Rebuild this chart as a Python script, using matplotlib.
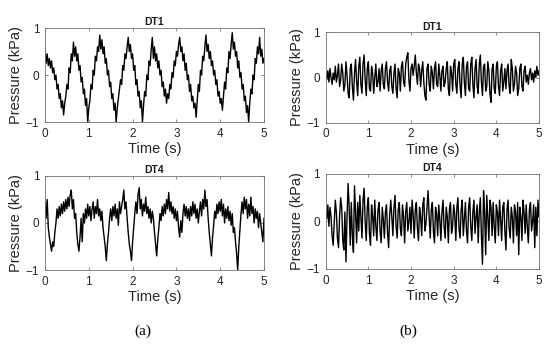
import numpy as np
import matplotlib
matplotlib.use("Agg")
import matplotlib.pyplot as plt

# pressure readings (kPa), sampled evenly over 0-5 s
dt1_a = [0.55, 0.25, 0.45, 0.2, 0.35, 0.15, 0.3, 0.05, 0.15, -0.1, 0.0, -0.3, -0.2, -0.5, -0.4, -0.7, -0.55, -0.85,
         -0.6, -0.45, -0.2, -0.3, 0.15, 0.05, 0.45, 0.3, 0.7,
         0.4, 0.6, 0.3, 0.45, 0.1, 0.2, -0.15, -0.05, -0.4, -0.3, -0.65, -0.5, -1.0,
         -0.7, -0.55, -0.2, -0.3, 0.1, 0.0, 0.4, 0.3, 0.6, 0.5, 0.85,
         0.55, 0.75, 0.45, 0.6, 0.25, 0.35, 0.0, 0.1, -0.25, -0.15, -0.5, -0.4, -0.75, -0.6, -1.0,
         -0.7, -0.5, -0.3, -0.1, -0.2, 0.2, 0.1, 0.45, 0.35, 0.6, 0.8,
         0.5, 0.65, 0.35, 0.45, 0.1, 0.2, -0.2, -0.1, -0.45, -0.35, -0.7, -0.55, -1.0,
         -0.65, -0.35, -0.45, 0.0, -0.1, 0.3, 0.2, 0.55, 0.8, 0.35, 0.6, 0.3, 0.45,
         0.15, 0.3, 0.0, 0.1, -0.25, -0.15, -0.45, -0.3, -0.6,
         -0.4, -0.5, -0.2, -0.3, 0.05, -0.05, 0.3, 0.2, 0.5, 0.4, 0.65, 0.8,
         0.5, 0.6, 0.3, 0.45, 0.1, 0.25, -0.1, 0.0, -0.35, -0.2, -0.55, -0.45, -0.7, -0.6, -0.9,
         -0.55, -0.2, -0.35, 0.1, 0.0, 0.4, 0.3, 0.6, 0.85,
         0.5, 0.65, 0.35, 0.5, 0.2, 0.3, 0.0, 0.1, -0.2, -0.1, -0.45, -0.35, -0.6, -0.5, -0.75,
         -0.45, -0.15, -0.3, 0.15, 0.05, 0.5, 0.35, 0.65, 0.9,
         0.55, 0.7, 0.4, 0.5, 0.15, 0.3, -0.05, 0.05, -0.3, -0.2, -0.55, -0.45, -0.8, -0.65, -1.0,
         -0.6, -0.3, -0.4, 0.0, -0.1, 0.35, 0.25, 0.6, 0.45, 0.8, 0.4, 0.55, 0.25, 0.35]

dt4_a = [0.45, 0.1, 0.5, -0.1, -0.3, -0.45, -0.6, -0.4, -0.5, -0.2, 0.0, 0.3, 0.1,
         0.35, 0.15, 0.4, 0.2, 0.45, 0.25, 0.5, 0.3, 0.55, 0.35, 0.6, 0.7,
         0.3, 0.5, 0.1, 0.2, -0.2, -0.45, -0.6, -0.3, 0.1, -0.4, 0.2, 0.0,
         0.3, 0.1, 0.4, 0.15, 0.35, 0.05, 0.3, 0.45, 0.1, 0.35, 0.2, 0.5,
         0.15, 0.3, 0.05, 0.25, -0.1, -0.3, -0.5, -0.8, -0.45, -0.2, 0.1, 0.3,
         0.05, 0.35, 0.15, 0.4, 0.1, 0.3, -0.05, 0.45, 0.2, 0.35, 0.5, 0.7,
         0.3, 0.45, 0.1, -0.2, -0.45, -0.6, -0.8, -0.4, -0.1, 0.2, 0.45, 0.2,
         0.6, 0.75, 0.3, 0.5, 0.15, 0.4, 0.25, 0.55, 0.2, 0.35, 0.1, 0.3,
         0.0, 0.25, 0.1, -0.2, -0.45, -0.7, -0.35, -0.1, 0.2, 0.05, 0.35, 0.15,
         0.4, 0.2, 0.5, 0.3, 0.65, 0.25, 0.45, 0.2, 0.35, 0.1, 0.3, 0.05,
         0.25, -0.1, -0.3, 0.05, -0.2, 0.2, 0.4, 0.15, 0.35, 0.1, 0.3, 0.05,
         0.35, 0.15, 0.45, 0.2, 0.4, 0.1, 0.3, 0.0, 0.25, 0.45, 0.15, 0.5,
         0.3, 0.7, 0.35, 0.5, 0.1, -0.2, -0.45, -0.7, -0.3, -0.05, 0.25, 0.1,
         0.4, 0.2, 0.45, 0.25, 0.5, 0.15, 0.4, 0.0, 0.3, 0.1, 0.35, 0.05,
         0.25, -0.05, 0.2, -0.2, -0.1, -0.4, -0.65, -1.0, -0.5, -0.15, 0.2, 0.45,
         0.2, 0.55, 0.3, 0.5, 0.1, 0.4, 0.15, 0.55, 0.2, 0.35, 0.0, 0.3, 0.1, 0.25, -0.1, 0.2, 0.0, -0.2, -0.4, 0.1]

dt1_b = [0.1, -0.05, 0.15, -0.1, 0.2, 0.0, -0.15, 0.1, -0.05, 0.25, -0.1, 0.05, 0.3,
         -0.2, -0.05, 0.3, 0.1, -0.3, -0.15, 0.35, 0.05,
         -0.35, -0.45, 0.2, 0.3, -0.2, -0.5, 0.1, 0.4,
         -0.1, -0.4, 0.25, 0.45, -0.15, -0.35, 0.3, 0.5, -0.05, -0.4, 0.2, 0.35,
         -0.25, -0.3, 0.25, 0.1, -0.35, 0.0, 0.3, -0.2, -0.1, 0.2, -0.3, 0.15,
         0.3, -0.15, -0.25, 0.2, 0.35, -0.1, -0.3, 0.15, 0.25, -0.2, -0.35, 0.1,
         0.3, -0.25, -0.45, 0.2, 0.1, -0.3, 0.25, 0.35, -0.1, -0.2, 0.3, 0.45,
         0.55, -0.05, -0.3, 0.2, 0.3, 0.05, 0.25, 0.5, 0.1, -0.15, 0.3, 0.2,
         -0.2, 0.15, 0.35, -0.1, -0.4, -0.5, 0.2, 0.3, -0.15, -0.3, 0.25, 0.1,
         -0.25, 0.2, 0.35, -0.15, -0.2, 0.3, 0.05, -0.3, 0.15, 0.25, -0.2, -0.1,
         0.2, 0.35, -0.25, -0.4, 0.25, 0.1, -0.3, 0.3, 0.4, -0.15, -0.35, 0.2,
         0.35, -0.2, -0.45, 0.3, 0.45, -0.1, -0.4, 0.25, 0.35, -0.25, -0.3, 0.3,
         0.45, -0.15, -0.45, 0.2, 0.4, -0.2, -0.35, 0.3, 0.5, -0.1, -0.4, 0.25,
         0.3, -0.3, -0.2, 0.35, 0.15, -0.35, -0.55, 0.2, 0.3, -0.25, -0.35, 0.25,
         0.35, -0.2, -0.4, 0.15, 0.3, -0.3, -0.1, 0.2, -0.25, 0.15, 0.3, -0.2,
         -0.35, 0.4, 0.2, -0.3, -0.15, 0.25, 0.1, -0.4, -0.25, 0.2, 0.3, -0.2,
         -0.3, 0.15, 0.25, -0.1, 0.05, -0.15, 0.1, 0.2, -0.05, 0.1, -0.1, 0.15, 0.0, 0.25, 0.05, 0.15]

dt4_b = [0.2, 0.05, 0.35, -0.1, 0.3, 0.1, -0.3, -0.5, 0.0, 0.45, 0.2, -0.35, -0.55,
         0.1, 0.5, 0.3, -0.4, -0.6, 0.2, -0.85, 0.1, 0.8, 0.3, -0.5, 0.4,
         -0.3, -0.65, 0.75, 0.2, -0.45, 0.4, -0.2, 0.55, 0.1, -0.35, 0.45, 0.7,
         0.0, -0.4, 0.3, 0.5, -0.25, -0.5, 0.35, 0.1, -0.3, 0.45, -0.1, -0.4,
         0.25, 0.4, -0.2, -0.45, 0.3, 0.05, -0.35, 0.2, 0.35, -0.25, -0.55, 0.15,
         0.45, 0.1, -0.3, 0.3, 0.55, -0.1, -0.35, 0.25, 0.4, -0.15, -0.3, 0.35,
         0.1, -0.45, 0.2, 0.4, -0.2, 0.0, 0.3, -0.25, 0.45, 0.15, -0.35, 0.25,
         0.4, -0.15, -0.4, 0.3, 0.1, -0.3, 0.35, 0.5, -0.2, -0.05, 0.3, 0.65,
         0.1, -0.35, 0.25, 0.4, -0.2, -0.45, 0.3, 0.15, -0.3, 0.35, 0.05, -0.4,
         0.2, 0.45, -0.1, -0.35, 0.3, 0.1, -0.45, 0.25, 0.4, -0.25, -0.1, 0.35,
         0.15, -0.4, 0.3, 0.5, -0.15, -0.35, 0.25, 0.45, -0.3, 0.05, 0.4, -0.2,
         -0.45, 0.3, 0.5, -0.1, -0.4, 0.2, 0.45, -0.25, 0.1, 0.35, -0.45, 0.2,
         0.5, -0.3, -0.9, 0.65, 0.2, -0.7, 0.55, 0.1, -0.4, 0.45, 0.3, -0.3,
         0.4, -0.1, -0.45, 0.35, 0.2, -0.3, 0.45, 0.05, -0.4, 0.3, 0.4, -0.2,
         -0.6, 0.25, 0.45, -0.15, -0.35, 0.3, 0.1, -0.45, 0.35, 0.2, -0.3, 0.4,
         -0.7, 0.3, 0.1, -0.4, 0.45, 0.2, -0.25, 0.35, -0.1, -0.45, 0.25, 0.4, -0.2, 0.0, 0.35, -0.55, 0.3, -0.3, 0.45, 0.1]

titles = ["DT1", "DT4"]
x_ticks = [0, 1, 2, 3, 4, 5]
y_ticks = [-1, 0, 1]

plt.rcParams['font.family'] = ['Liberation Sans', 'DejaVu Sans']

fig = plt.figure(figsize=(5.5, 3.47), dpi=100)

# [left, bottom, width, height] for each panel
boxes = [
    (dt1_a, titles[0], [0.0818, 0.6484, 0.3982, 0.2709]),
    (dt1_b, titles[0], [0.5922, 0.6465, 0.3878, 0.2600]),
    (dt4_a, titles[1], [0.0818, 0.2219, 0.3982, 0.2709]),
    (dt4_b, titles[1], [0.5922, 0.2248, 0.3878, 0.2738]),
]

for data, ttl, pos in boxes:
    ax = fig.add_axes(pos)
    t = np.linspace(0, 5, len(data))
    ax.plot(t, data, color='black', linewidth=1.0)
    ax.set_xlim(0, 5)
    ax.set_ylim(-1, 1)
    ax.set_xticks(x_ticks)
    ax.set_yticks(y_ticks)
    ax.tick_params(direction='in', length=2.5, width=0.5, top=True, right=True,
                   labelsize=8.5, colors='0.35', labelcolor='#262626', pad=4)
    for s in ax.spines.values():
        s.set_color('0.45')
        s.set_linewidth(0.6)
    ax.set_title(ttl, fontsize=7.5, fontweight='bold', pad=2, color='#1a1a1a')
    ax.set_xlabel("Time (s)", fontsize=10.5, labelpad=2, color='#262626')
    ax.set_ylabel("Pressure (kPa)", fontsize=10.5, labelpad=2, color='#262626')

fig.text(0.26, 0.035, "(a)", fontsize=11, family='Liberation Serif', ha='center')
fig.text(0.742, 0.035, "(b)", fontsize=11, family='Liberation Serif', ha='center')

fig.savefig("out.png", dpi=100)
